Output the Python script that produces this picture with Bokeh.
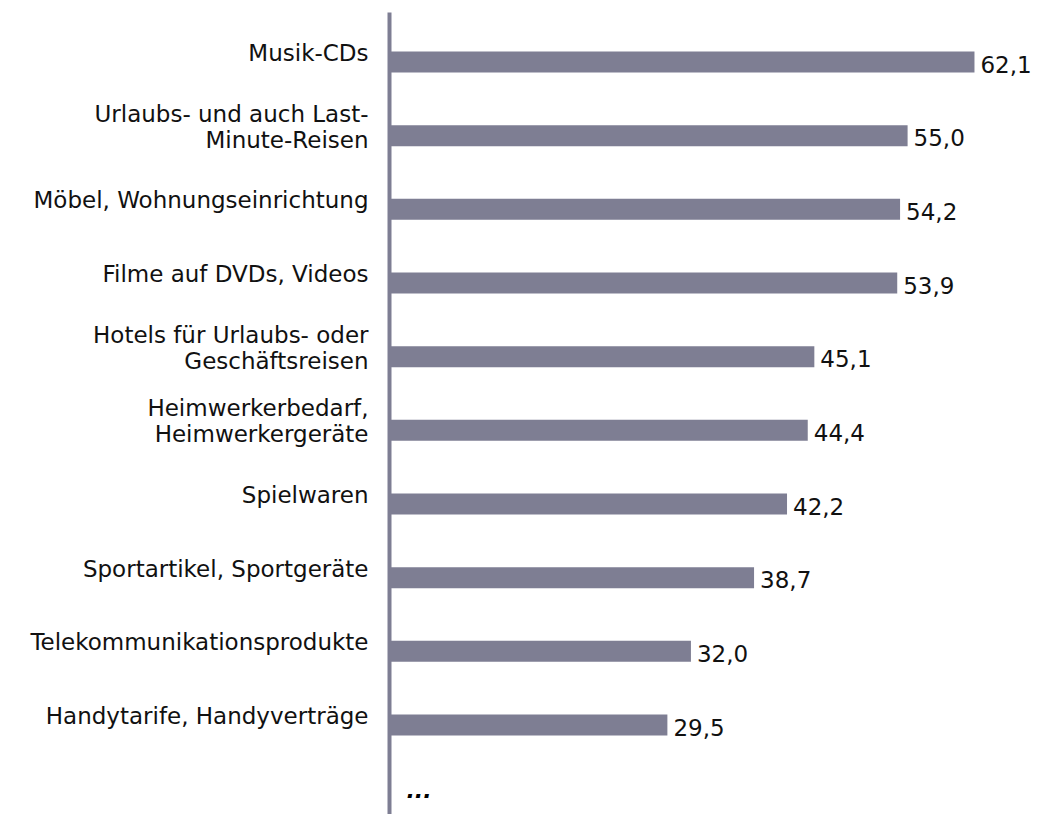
from bokeh.plotting import figure
from bokeh.models import Range1d, ColumnDataSource
from bokeh.core.properties import value
from bokeh.embed import file_html
from bokeh.resources import INLINE

categories = [
    "Musik-CDs",
    "Urlaubs- und auch Last-\nMinute-Reisen",
    "Möbel, Wohnungseinrichtung",
    "Filme auf DVDs, Videos",
    "Hotels für Urlaubs- oder\nGeschäftsreisen",
    "Heimwerkerbedarf,\nHeimwerkergeräte",
    "Spielwaren",
    "Sportartikel, Sportgeräte",
    "Telekommunikationsprodukte",
    "Handytarife, Handyverträge",
]
values = [62.1, 55.0, 54.2, 53.9, 45.1, 44.4, 42.2, 38.7, 32.0, 29.5]
value_labels = ["62,1", "55,0", "54,2", "53,9", "45,1", "44,4", "42,2", "38,7", "32,0", "29,5"]

BAR = "#7e7e93"
FONT = "DejaVu Sans"
FS = "23px"
FSV = "23px"

W, H = 1036, 814
px_per_unit = 9.42
axis_px = 389
x0 = -axis_px / px_per_unit
x1 = (W - axis_px) / px_per_unit
row_px = 73.67
top_px = 61.5
y_top = -top_px / row_px
y_bot = (H - top_px) / row_px

p = figure(width=W, height=H, output_backend="svg", toolbar_location=None,
           x_range=Range1d(x0, x1), y_range=Range1d(y_bot, y_top),
           min_border=0, min_border_left=0, min_border_right=0,
           min_border_top=0, min_border_bottom=0)
p.xaxis.visible = False
p.yaxis.visible = False
p.grid.visible = False
p.outline_line_color = None
p.background_fill_color = "white"
p.border_fill_color = "white"

ys = list(range(len(categories)))
src = ColumnDataSource(dict(y=ys, v=values, vl=value_labels))
p.hbar(y="y", left=0, right="v", height=21 / row_px, source=src, fill_color=BAR, line_color=None)

# axis line
p.segment(x0=[0], y0=[y_top + 12 / row_px], x1=[0], y1=[y_bot + 0.2], line_color=BAR, line_width=4)

# value labels
p.text(x="v", y="y", text="vl", source=src, x_offset=6, y_offset=2,
       text_font=value(FONT), text_font_size=FSV, text_align="left", text_baseline="middle",
       text_color="#111111")

# category labels
lx, ly, lt = [], [], []
for i, c in enumerate(categories):
    lines = c.split("\n")
    if len(lines) == 1:
        lx.append(0); ly.append(i - 9 / row_px); lt.append(lines[0])
    else:
        n = len(lines)
        for j, ln in enumerate(lines):
            lx.append(0); ly.append(i + (4 - 26 * (n - 1 - j)) / row_px); lt.append(ln)
p.text(x=lx, y=ly, text=lt, x_offset=-21, text_font=value(FONT), text_font_size=FS,
       text_align="right", text_baseline="middle", text_color="#111111")

# ellipsis
p.text(x=[0], y=[9.92], text=["..."], x_offset=17, y_offset=-3, text_font=value(FONT), text_font_size="22px",
       text_font_style="bold italic", text_align="left", text_baseline="middle", text_color="black")

open("out.html", "w").write(file_html(p, INLINE))
